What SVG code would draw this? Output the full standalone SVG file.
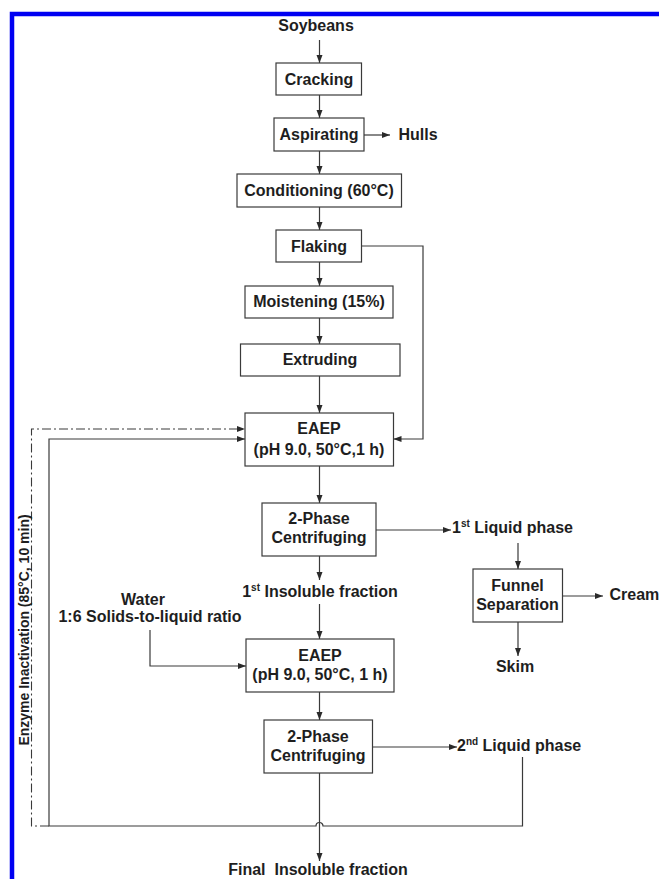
<svg xmlns="http://www.w3.org/2000/svg" width="659" height="879" viewBox="0 0 659 879">
<style>
text{font-family:"Liberation Sans",Arial,sans-serif;font-weight:bold;font-size:16px;fill:#1e1e1e}
.c{text-anchor:middle}
.box{fill:#fff;stroke:#3a3a3a;stroke-width:1.2}
.ln{fill:none;stroke:#3a3a3a;stroke-width:1.2}
.dd{fill:none;stroke:#3a3a3a;stroke-width:1.1;stroke-dasharray:9,3,2,3}
.sup{font-size:10px}
.vt{font-size:14px}
</style>
<defs>
<marker id="ah" markerUnits="userSpaceOnUse" markerWidth="8" markerHeight="8" viewBox="0 0 8 8" refX="8" refY="4" orient="auto">
<path d="M0,1 L8,4 L0,7 Z" fill="#2a2a2a"/>
</marker>
</defs>
<rect width="659" height="879" fill="#fff"/>
<path d="M12 879 V14 H659" fill="none" stroke="#0000f2" stroke-width="4.5"/>

<g id="connectors">
<path class="ln" d="M319.5 40 V63" marker-end="url(#ah)"/>
<path class="ln" d="M319.5 95 V118" marker-end="url(#ah)"/>
<path class="ln" d="M364 135 H390" marker-end="url(#ah)"/>
<path class="ln" d="M319.5 151 V174" marker-end="url(#ah)"/>
<path class="ln" d="M319.5 207 V230" marker-end="url(#ah)"/>
<path class="ln" d="M319.5 262 V286" marker-end="url(#ah)"/>
<path class="ln" d="M319.5 318 V344" marker-end="url(#ah)"/>
<path class="ln" d="M319.5 376 V413" marker-end="url(#ah)"/>
<path class="ln" d="M361.5 246 H423 V439 H393.5" marker-end="url(#ah)"/>
<path class="ln" d="M319.5 466 V503" marker-end="url(#ah)"/>
<path class="ln" d="M376 530 H451" marker-end="url(#ah)"/>
<path class="ln" d="M518 543 V569" marker-end="url(#ah)"/>
<path class="ln" d="M562.5 596 H603" marker-end="url(#ah)"/>
<path class="ln" d="M518 622 V656" marker-end="url(#ah)"/>
<path class="ln" d="M319.5 556 V580" marker-end="url(#ah)"/>
<path class="ln" d="M319.5 604 V639" marker-end="url(#ah)"/>
<path class="ln" d="M150 630 V666 H246" marker-end="url(#ah)"/>
<path class="ln" d="M319.5 692 V720" marker-end="url(#ah)"/>
<path class="ln" d="M372.5 747 H457" marker-end="url(#ah)"/>
<path class="ln" d="M319.5 773 V861" marker-end="url(#ah)"/>
<path class="ln" d="M522.5 757 V826 H323 A3.5 3.5 0 0 0 316 826 H49 V439 H245" marker-end="url(#ah)"/>
<path class="dd" d="M49 826 H31.5 V429 H245" marker-end="url(#ah)"/>
</g>

<g id="soybeans"><text class="c" x="316" y="31">Soybeans</text></g>
<g id="cracking"><rect class="box" x="276" y="63" width="85.5" height="32"/><text class="c" x="319" y="85">Cracking</text></g>
<g id="aspirating"><rect class="box" x="274" y="118" width="90" height="33"/><text class="c" x="319" y="140">Aspirating</text></g>
<g id="hulls"><text x="398.5" y="140">Hulls</text></g>
<g id="conditioning"><rect class="box" x="237" y="174" width="164.5" height="33"/><text class="c" x="319" y="196">Conditioning (60°C)</text></g>
<g id="flaking"><rect class="box" x="276" y="230" width="85.5" height="32"/><text class="c" x="319" y="252">Flaking</text></g>
<g id="moistening"><rect class="box" x="245" y="286" width="148" height="32"/><text class="c" x="319" y="307">Moistening (15%)</text></g>
<g id="extruding"><rect class="box" x="240.5" y="344" width="159.5" height="32"/><text class="c" x="320" y="365">Extruding</text></g>
<g id="eaep1"><rect class="box" x="245" y="413" width="148.5" height="53"/><text class="c" x="319" y="434">EAEP</text><text class="c" x="319" y="455">(pH 9.0, 50°C,1 h)</text></g>
<g id="centrifuging1"><rect class="box" x="262" y="503" width="114" height="53"/><text class="c" x="319" y="524">2-Phase</text><text class="c" x="319" y="543">Centrifuging</text></g>
<g id="liquid1"><text x="452" y="533">1<tspan class="sup" dy="-6">st</tspan><tspan dy="6"> Liquid phase</tspan></text></g>
<g id="funnel"><rect class="box" x="473" y="569" width="89.5" height="53"/><text class="c" x="517.5" y="591">Funnel</text><text class="c" x="517.5" y="610">Separation</text></g>
<g id="cream"><text x="609.5" y="600">Cream</text></g>
<g id="skim"><text class="c" x="515" y="672">Skim</text></g>
<g id="insoluble1"><text class="c" x="320" y="597">1<tspan class="sup" dy="-6">st</tspan><tspan dy="6"> Insoluble fraction</tspan></text></g>
<g id="water"><text class="c" x="143" y="605">Water</text><text class="c" x="150" y="622">1:6 Solids-to-liquid ratio</text></g>
<g id="eaep2"><rect class="box" x="246" y="639" width="148" height="53"/><text class="c" x="320" y="661">EAEP</text><text class="c" x="320" y="680">(pH 9.0, 50°C, 1 h)</text></g>
<g id="centrifuging2"><rect class="box" x="264" y="720" width="108.5" height="53"/><text class="c" x="318" y="742">2-Phase</text><text class="c" x="318" y="761">Centrifuging</text></g>
<g id="liquid2"><text x="457" y="751">2<tspan class="sup" dy="-6">nd</tspan><tspan dy="6"> Liquid phase</tspan></text></g>
<g id="final"><text class="c" x="318" y="875" xml:space="preserve">Final  Insoluble fraction</text></g>
<g id="enzyme"><text class="c vt" transform="translate(28.5 630) rotate(-90)">Enzyme Inactivation (85°C, 10 min)</text></g>
</svg>
